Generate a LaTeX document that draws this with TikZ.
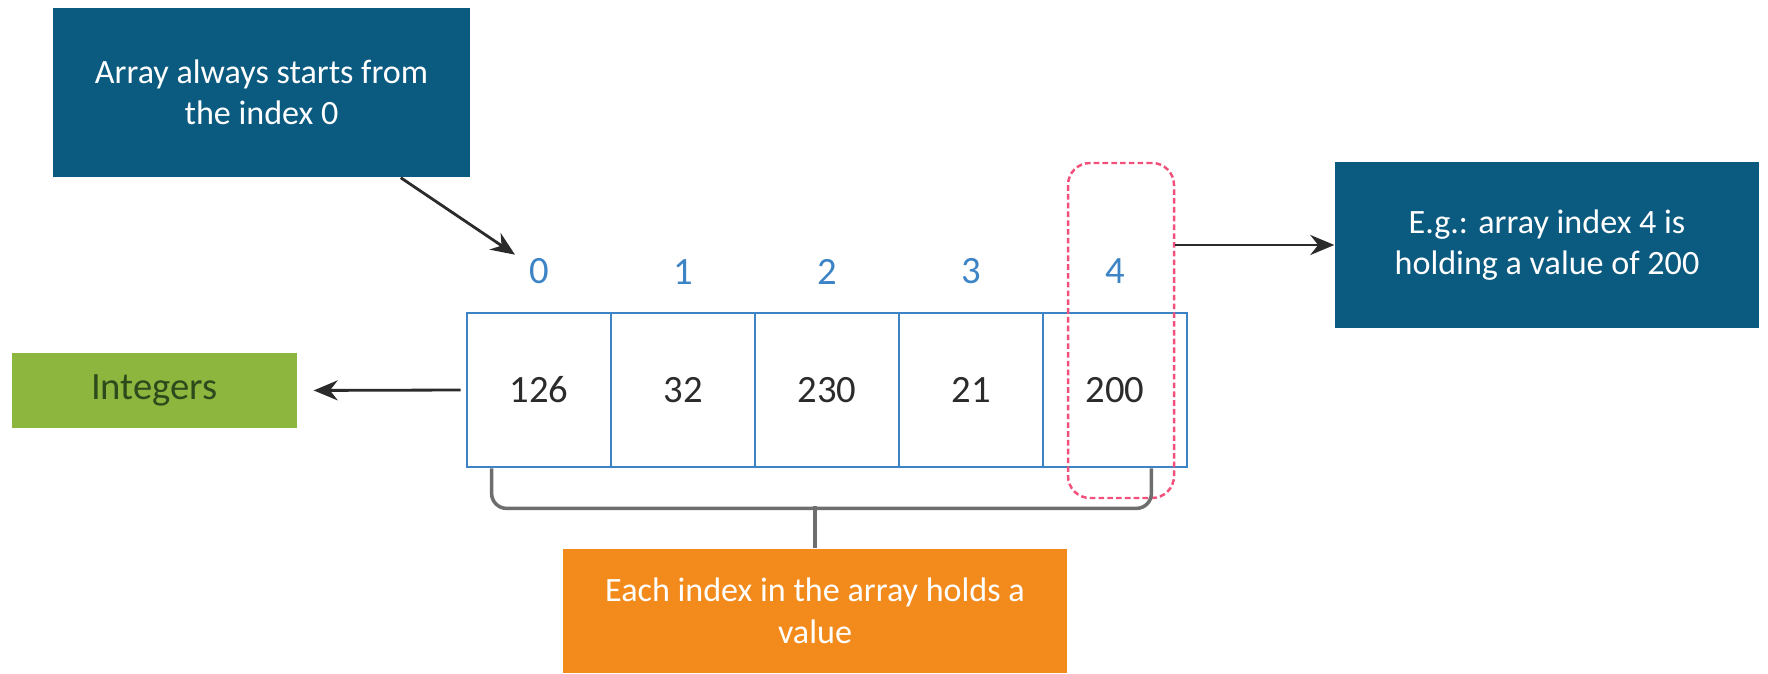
\documentclass[tikz,border=0pt]{standalone}
\usepackage{fontspec}
\setmainfont{Carlito}
\usetikzlibrary{arrows.meta,positioning}
\definecolor{ixnavy}{HTML}{0B5A80}
\definecolor{ixblue}{HTML}{3C84C6}
\definecolor{ixgreen}{HTML}{8DB63F}
\definecolor{ixleaf}{HTML}{2E4A1C}
\definecolor{ixorange}{HTML}{F28A1C}
\definecolor{ixpink}{HTML}{F0507A}
\definecolor{ixink}{HTML}{2B2B2B}
\definecolor{ixgray}{HTML}{6E6E6E}
\tikzset{
  note/.style={align=center, inner sep=2pt, font=\fontsize{9.7}{11.8}\selectfont},
  navy/.style={note, fill=ixnavy, text=white},
  cell/.style={draw=ixblue, line width=0.8pt, minimum width=14.4mm, minimum height=15.4mm, inner sep=0pt, font=\fontsize{11}{13}\selectfont, text=ixink},
  idx/.style={font=\fontsize{11}{13}\selectfont, text=ixblue, inner sep=1pt},
  sel/.style={draw=ixpink, dash pattern=on 1.6pt off 0.9pt, line width=0.7pt, rounded corners=2.2mm, minimum width=10.6mm, minimum height=33.5mm},
  arr/.style={-{Stealth[length=2.4mm, width=2mm]}, line width=0.8pt, color=ixink},
  brace/.style={draw=ixgray, line width=1pt, rounded corners=1.5mm},
}
\begin{document}
\begin{tikzpicture}
  \useasboundingbox (0,0) rectangle (17.68,6.73);
  % the array and its indices
  \foreach \v [count=\i from 0] in {126,32,230,21,200} {
    \node[cell] (c\i) at ({5.39+1.44*\i},2.83) {\v};
    \node[idx] (i\i) at ([yshift=4mm]c\i.north) {\i};
  }
  \node[sel] (sel) at (11.21,3.425) {};
  % notes
  \node[navy, minimum width=41.7mm, minimum height=16.9mm] (start) at (2.615,5.805) {Array always starts from\\the index 0};
  \node[navy, minimum width=42.4mm, minimum height=16.6mm] (eg) at (15.47,4.28) {E.g.: array index 4 is\\holding a value of 200};
  \node[note, fill=ixgreen, text=ixleaf, font=\fontsize{11}{13}\selectfont, minimum width=28.5mm, minimum height=7.5mm] (ints) at (1.545,2.825) {Integers};
  \node[note, fill=ixorange, text=white, minimum width=50.4mm, minimum height=12.4mm] (each) at (8.15,0.62) {Each index in the array holds a\\value};
  % connectors
  \draw[arr] ([xshift=-7mm]start.south east) -- ([xshift=-1mm]i0.north west);
  \draw[arr] (eg.west -| sel.east) -- (eg.west);
  \draw[arr, shorten <=0.5mm, shorten >=1.6mm] (c0.west) -- (ints.east);
  \coordinate (bl) at ([xshift=2.6mm]c0.south west);
  \coordinate (br) at ([xshift=-3.7mm]c4.south east);
  \draw[brace] (bl) -- ++(0,-4mm) -| (br);
  \draw[brace] (each.north) -- ++(0,4.2mm);
\end{tikzpicture}
\end{document}
